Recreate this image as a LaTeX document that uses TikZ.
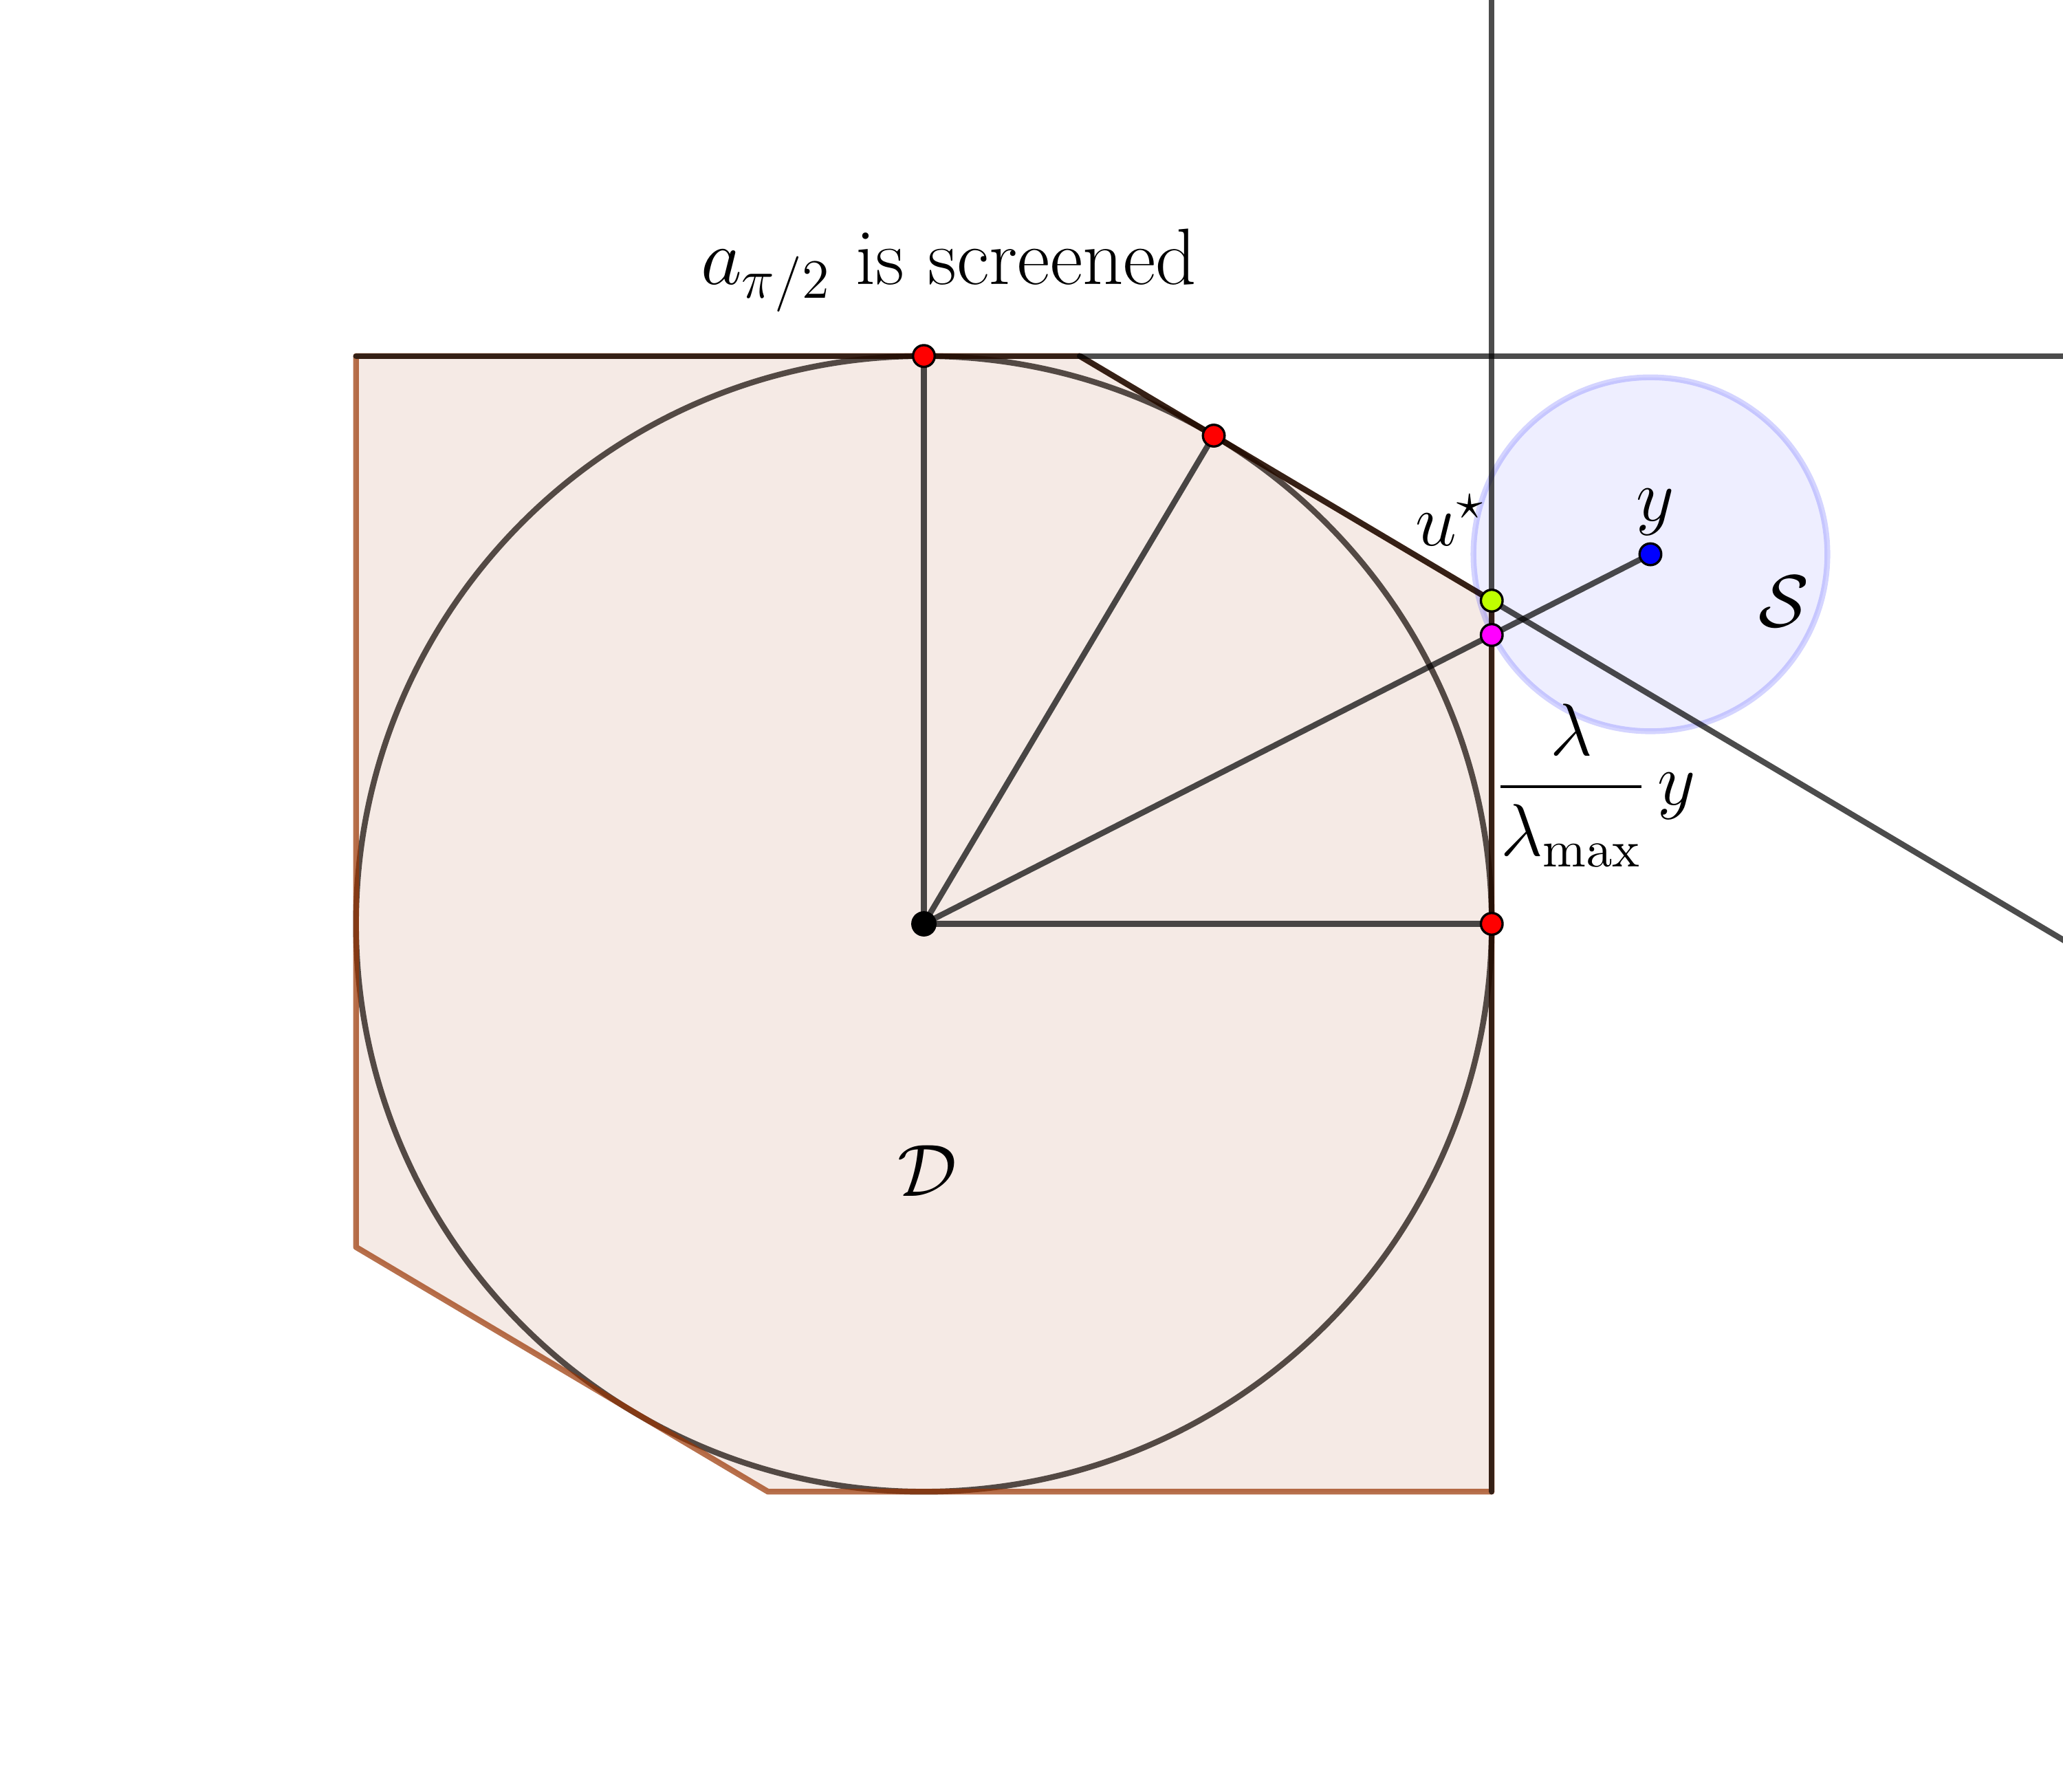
\RequirePackage{fix-cm}
\documentclass[tikz,border=0pt]{standalone}
\usepackage{amsmath}
\usetikzlibrary{calc}
\definecolor{rust}{RGB}{153,51,0}
\definecolor{limeD}{RGB}{191,255,0}
\definecolor{magD}{RGB}{255,0,255}
\newcommand{\rD}{4.316}

\begin{document}
\begin{tikzpicture}[font=\fontsize{16}{19}\selectfont, line cap=round, line join=round,
  guide/.style={draw=black, draw opacity=0.7, line width=1.25pt},
  region/.style={draw=rust, draw opacity=0.7, fill=rust, fill opacity=0.1, line width=1.25pt},
  ball/.style={draw=blue, draw opacity=0.17, fill=blue, fill opacity=0.065, line width=1.25pt},
  dot/.style={circle, draw=black, line width=0.5pt, inner sep=0pt, minimum size=1.65mm},
  lbl/.style={inner sep=0pt}]
\useasboundingbox (-7.022,-6.598) rectangle (8.658,7.022);
\clip (-7.022,-6.598) rectangle (8.658,7.022);
% points of the figure
\coordinate (O) at (0,0);
\coordinate (T) at (0,\rD);
\coordinate (R) at (\rD,0);
\coordinate (P) at (59.3:\rD);
\coordinate (A) at (-\rD,\rD);
\coordinate (B) at ({\rD*tan(15.35)},\rD);
\coordinate (C) at (\rD,{\rD*tan(29.65)});
\coordinate (D) at (\rD,-\rD);
\coordinate (E) at ({-\rD*tan(15.35)},-\rD);
\coordinate (F) at (-\rD,{-\rD*tan(29.65)});
\coordinate (Y) at (5.522,2.809);
\coordinate (M) at (\rD,{2.809*\rD/5.522});
% disc, polygon and ball
\draw[guide] (O) circle (\rD);
\draw[region] (A) -- (B) -- (C) -- (D) -- (E) -- (F) -- cycle;
\draw[ball] (Y) circle (1.345);
% supporting lines
\draw[guide] (A) -- ($(A)!4!(B)$);
\draw[guide] (D) -- ($(D)!3!(C)$);
\draw[guide] (B) -- ($(B)!5!(C)$);
\draw[guide] (O) -- (T); \draw[guide] (O) -- (P); \draw[guide] (O) -- (R); \draw[guide] (O) -- (Y);
% dots
\node[dot, fill=red] (dT) at (T) {};
\node[dot, fill=red] (dP) at (P) {};
\node[dot, fill=red] (dR) at (R) {};
\node[dot, fill=black, minimum size=1.75mm] (dO) at (O) {};
\node[dot, fill=limeD] (dC) at (C) {};
\node[dot, fill=magD] (dM) at (M) {};
\node[dot, fill=blue] (dY) at (Y) {};
% labels
\node[lbl, anchor=base west, font=\fontsize{17.28}{21}\selectfont] (title) at (-1.702,4.862) {$a_{\pi/2}$ is screened};
\node[lbl, anchor=base west] (ustar) at (3.728,2.877) {$u^\star$};
\node[lbl, anchor=base] (ylbl) at (5.558,3.062) {$y$};
\node[lbl] (Slbl) at (6.538,2.452) {$\mathcal{S}$};
\node[lbl] (Dlbl) at (0.028,-1.878) {$\mathcal{D}$};
\node[lbl, anchor=base] (fraclbl) at (5.103,0.902) {$\displaystyle\frac{\lambda}{\lambda_{\max}}\mkern2.5mu y$};
\end{tikzpicture}
\end{document}
